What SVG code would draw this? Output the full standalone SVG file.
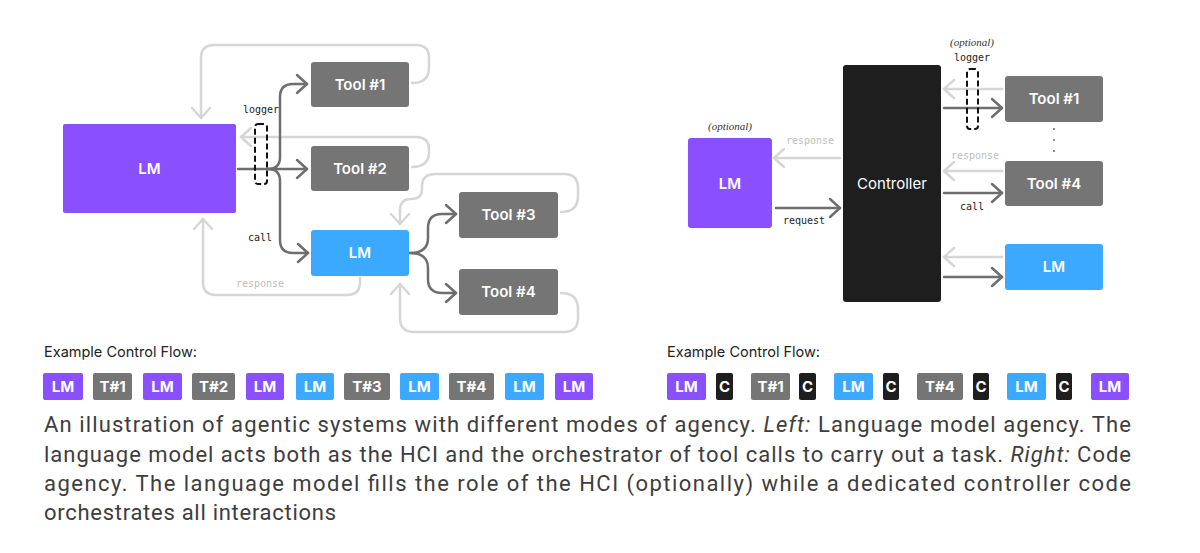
<svg xmlns="http://www.w3.org/2000/svg" width="1200" height="553" viewBox="0 0 1200 553">
<style>
.purple{fill:#8a4fff}
.blue{fill:#3ba9ff}
.gray{fill:#757575}
.black{fill:#1e1e1e}
.lbl{font-family:Inter,"Liberation Sans",sans-serif;font-weight:600;fill:#fff;text-anchor:middle}
.mono{font-family:"DejaVu Sans Mono","Liberation Mono",monospace;font-size:10px;text-anchor:middle}
.dk{fill:#222}
.lt{fill:#bdbdbd}
.opt{font-family:"Liberation Serif",serif;font-style:italic;font-size:11px;fill:#333;text-anchor:middle}
.cd{fill:none;stroke:#6e6e6e;stroke-width:2.5;stroke-linecap:round}
.cl{fill:none;stroke:#d6d6d6;stroke-width:2.5;stroke-linecap:round}
.log{fill:none;stroke:#111;stroke-width:2;stroke-dasharray:6 3}
.head{font-family:Inter,"Liberation Sans",sans-serif;font-size:14.5px;fill:#222}
.chip{font-family:Inter,"Liberation Sans",sans-serif;font-weight:700;font-size:15px;fill:#fff;text-anchor:middle}
.cap{font-family:Roboto,"Liberation Sans",sans-serif;font-size:22px;fill:#3d3d3d}
</style>
<defs>
<marker id="ad" markerUnits="userSpaceOnUse" viewBox="-12 -11 14 22" refX="0" refY="0" markerWidth="14" markerHeight="22" orient="auto" overflow="visible">
<path d="M-10,-9 L0,0 L-10,9" fill="none" stroke="#6e6e6e" stroke-width="2.5" stroke-linecap="round" stroke-linejoin="round"/>
</marker>
<marker id="al" markerUnits="userSpaceOnUse" viewBox="-12 -11 14 22" refX="0" refY="0" markerWidth="14" markerHeight="22" orient="auto" overflow="visible">
<path d="M-10,-9 L0,0 L-10,9" fill="none" stroke="#d6d6d6" stroke-width="2.5" stroke-linecap="round" stroke-linejoin="round"/>
</marker>
</defs>
<rect width="1200" height="553" fill="#fff"/>

<!-- LEFT DIAGRAM connectors -->
<g id="connectors-left">
<path class="cl" d="M412,83 Q429,83 429,68 V58 Q429,45 416,45 H214 Q201,45 201,58 V118" marker-end="url(#al)"/>
<path class="cl" d="M412,167 Q429,167 429,152 V150 Q429,137 416,137 H241" marker-end="url(#al)"/>
<path class="cl" d="M561,212 Q578,212 578,196 V188 Q578,174 564,174 H436 Q422,174 422,186 V189 Q422,199 411,199 Q400,199 400,210 V224" marker-end="url(#al)"/>
<path class="cl" d="M561,293 Q578,293 578,309 V318 Q578,332 564,332 H414 Q400,332 400,318 V284" marker-end="url(#al)"/>
<path class="cl" d="M360,278 V282 Q360,295 347,295 H216 Q203,295 203,282 V219" marker-end="url(#al)"/>
<path class="cd" d="M238,169 H307" marker-end="url(#ad)"/>
<path class="cd" d="M268,169 Q280,169 280,157 V97 Q280,84 293,84 H307" marker-end="url(#ad)"/>
<path class="cd" d="M268,169 Q280,169 280,181 V240 Q280,253 293,253 H308" marker-end="url(#ad)"/>
<path class="cd" d="M410,253 Q428,253 428,238 V228 Q428,214 442,214 H456" marker-end="url(#ad)"/>
<path class="cd" d="M410,253 Q428,253 428,268 V279 Q428,293 442,293 H456" marker-end="url(#ad)"/>
<rect class="log" x="255" y="124" width="12" height="60" rx="3"/>
<text class="mono dk" x="261" y="113">logger</text>
<text class="mono dk" x="260" y="241">call</text>
<text class="mono lt" x="260" y="287">response</text>
</g>

<g id="lm-left"><rect class="purple" x="63" y="124" width="173" height="89" rx="2"/><text class="lbl" x="149.5" y="174" font-size="15">LM</text></g>
<g id="tool1-left"><rect class="gray" x="311" y="62" width="98" height="45" rx="3"/><text class="lbl" x="360" y="90" font-size="15">Tool #1</text></g>
<g id="tool2-left"><rect class="gray" x="311" y="146" width="98" height="45" rx="3"/><text class="lbl" x="360" y="174" font-size="15">Tool #2</text></g>
<g id="lm2-left"><rect class="blue" x="311" y="230" width="98" height="46" rx="3"/><text class="lbl" x="360" y="258" font-size="15">LM</text></g>
<g id="tool3-left"><rect class="gray" x="459" y="192" width="99" height="46" rx="3"/><text class="lbl" x="508.5" y="220" font-size="15">Tool #3</text></g>
<g id="tool4-left"><rect class="gray" x="459" y="269" width="99" height="46" rx="3"/><text class="lbl" x="508.5" y="297" font-size="15">Tool #4</text></g>

<!-- RIGHT DIAGRAM connectors -->
<g id="connectors-right">
<path class="cl" d="M1002,89 H944" marker-end="url(#al)"/>
<path class="cd" d="M944,108 H1002" marker-end="url(#ad)"/>
<path class="cl" d="M1002,171 H944" marker-end="url(#al)"/>
<path class="cd" d="M944,193 H1002" marker-end="url(#ad)"/>
<path class="cl" d="M1002,257 H944" marker-end="url(#al)"/>
<path class="cd" d="M944,277 H1002" marker-end="url(#ad)"/>
<path class="cl" d="M840,158 H774" marker-end="url(#al)"/>
<path class="cd" d="M776,208 H840" marker-end="url(#ad)"/>
<rect class="log" x="967" y="69" width="11" height="60" rx="3"/>
<text class="opt" x="972" y="46">(optional)</text>
<text class="mono dk" x="972" y="61">logger</text>
<text class="mono lt" x="975" y="159">response</text>
<text class="mono dk" x="972" y="210">call</text>
<text class="mono lt" x="810" y="144">response</text>
<text class="mono dk" x="804" y="224">request</text>
<circle cx="1054" cy="129" r="0.9" fill="#555"/>
<circle cx="1054" cy="140" r="0.9" fill="#555"/>
<circle cx="1054" cy="151" r="0.9" fill="#555"/>
</g>

<g id="controller"><rect class="black" x="843" y="65" width="98" height="237" rx="3"/><text x="892" y="189" font-family="Inter,'Liberation Sans',sans-serif" font-size="15" fill="#fff" text-anchor="middle">Controller</text></g>
<g id="lm-right"><text class="opt" x="730" y="130">(optional)</text><rect class="purple" x="688" y="138" width="84" height="90" rx="3"/><text class="lbl" x="730" y="189" font-size="15">LM</text></g>
<g id="tool1-right"><rect class="gray" x="1005" y="76" width="98" height="46" rx="3"/><text class="lbl" x="1054" y="104" font-size="15">Tool #1</text></g>
<g id="tool4-right"><rect class="gray" x="1005" y="161" width="98" height="45" rx="3"/><text class="lbl" x="1054" y="189" font-size="15">Tool #4</text></g>
<g id="lm2-right"><rect class="blue" x="1005" y="244" width="98" height="46" rx="3"/><text class="lbl" x="1054" y="272" font-size="15">LM</text></g>

<!-- Example control flows -->
<g id="flow-left">
<text class="head" x="44" y="357">Example Control Flow:</text>
<rect class="purple" x="43" y="373" width="40" height="27" rx="2"/><text class="chip" x="63" y="392">LM</text>
<rect class="gray" x="93" y="373" width="39" height="27" rx="2"/><text class="chip" x="112.5" y="392">T#1</text>
<rect class="purple" x="143" y="373" width="39" height="27" rx="2"/><text class="chip" x="162.5" y="392">LM</text>
<rect class="gray" x="192" y="373" width="43" height="27" rx="2"/><text class="chip" x="213.5" y="392">T#2</text>
<rect class="purple" x="246" y="373" width="38" height="27" rx="2"/><text class="chip" x="265" y="392">LM</text>
<rect class="blue" x="296" y="373" width="38" height="27" rx="2"/><text class="chip" x="315" y="392">LM</text>
<rect class="gray" x="344" y="373" width="46" height="27" rx="2"/><text class="chip" x="367" y="392">T#3</text>
<rect class="blue" x="400" y="373" width="39" height="27" rx="2"/><text class="chip" x="419.5" y="392">LM</text>
<rect class="gray" x="449" y="373" width="45" height="27" rx="2"/><text class="chip" x="471.5" y="392">T#4</text>
<rect class="blue" x="505" y="373" width="39" height="27" rx="2"/><text class="chip" x="524.5" y="392">LM</text>
<rect class="purple" x="555" y="373" width="38" height="27" rx="2"/><text class="chip" x="574" y="392">LM</text>
</g>
<g id="flow-right">
<text class="head" x="667" y="357">Example Control Flow:</text>
<rect class="purple" x="667" y="373" width="39" height="27" rx="2"/><text class="chip" x="686.5" y="392">LM</text>
<rect class="black" x="716" y="373" width="17" height="27" rx="2"/><text class="chip" x="724.5" y="392">C</text>
<rect class="gray" x="751" y="373" width="39" height="27" rx="2"/><text class="chip" x="770.5" y="392">T#1</text>
<rect class="black" x="799" y="373" width="17" height="27" rx="2"/><text class="chip" x="807.5" y="392">C</text>
<rect class="blue" x="834" y="373" width="39" height="27" rx="2"/><text class="chip" x="853.5" y="392">LM</text>
<rect class="black" x="883" y="373" width="16" height="27" rx="2"/><text class="chip" x="891" y="392">C</text>
<rect class="gray" x="917" y="373" width="46" height="27" rx="2"/><text class="chip" x="940" y="392">T#4</text>
<rect class="black" x="973" y="373" width="16" height="27" rx="2"/><text class="chip" x="981" y="392">C</text>
<rect class="blue" x="1007" y="373" width="39" height="27" rx="2"/><text class="chip" x="1026.5" y="392">LM</text>
<rect class="black" x="1056" y="373" width="16" height="27" rx="2"/><text class="chip" x="1064" y="392">C</text>
<rect class="purple" x="1091" y="373" width="38" height="27" rx="2"/><text class="chip" x="1110" y="392">LM</text>
</g>

<g id="caption">
<text class="cap" x="44" y="432" textLength="1087" lengthAdjust="spacing">An illustration of agentic systems with different modes of agency. <tspan font-style="italic">Left:</tspan> Language model agency. The</text>
<text class="cap" x="44" y="462" textLength="1087" lengthAdjust="spacing">language model acts both as the HCI and the orchestrator of tool calls to carry out a task. <tspan font-style="italic">Right:</tspan> Code</text>
<text class="cap" x="44" y="491" textLength="1087" lengthAdjust="spacing">agency. The language model fills the role of the HCI (optionally) while a dedicated controller code</text>
<text class="cap" x="44" y="520" textLength="292" lengthAdjust="spacing">orchestrates all interactions</text>
</g>
</svg>
